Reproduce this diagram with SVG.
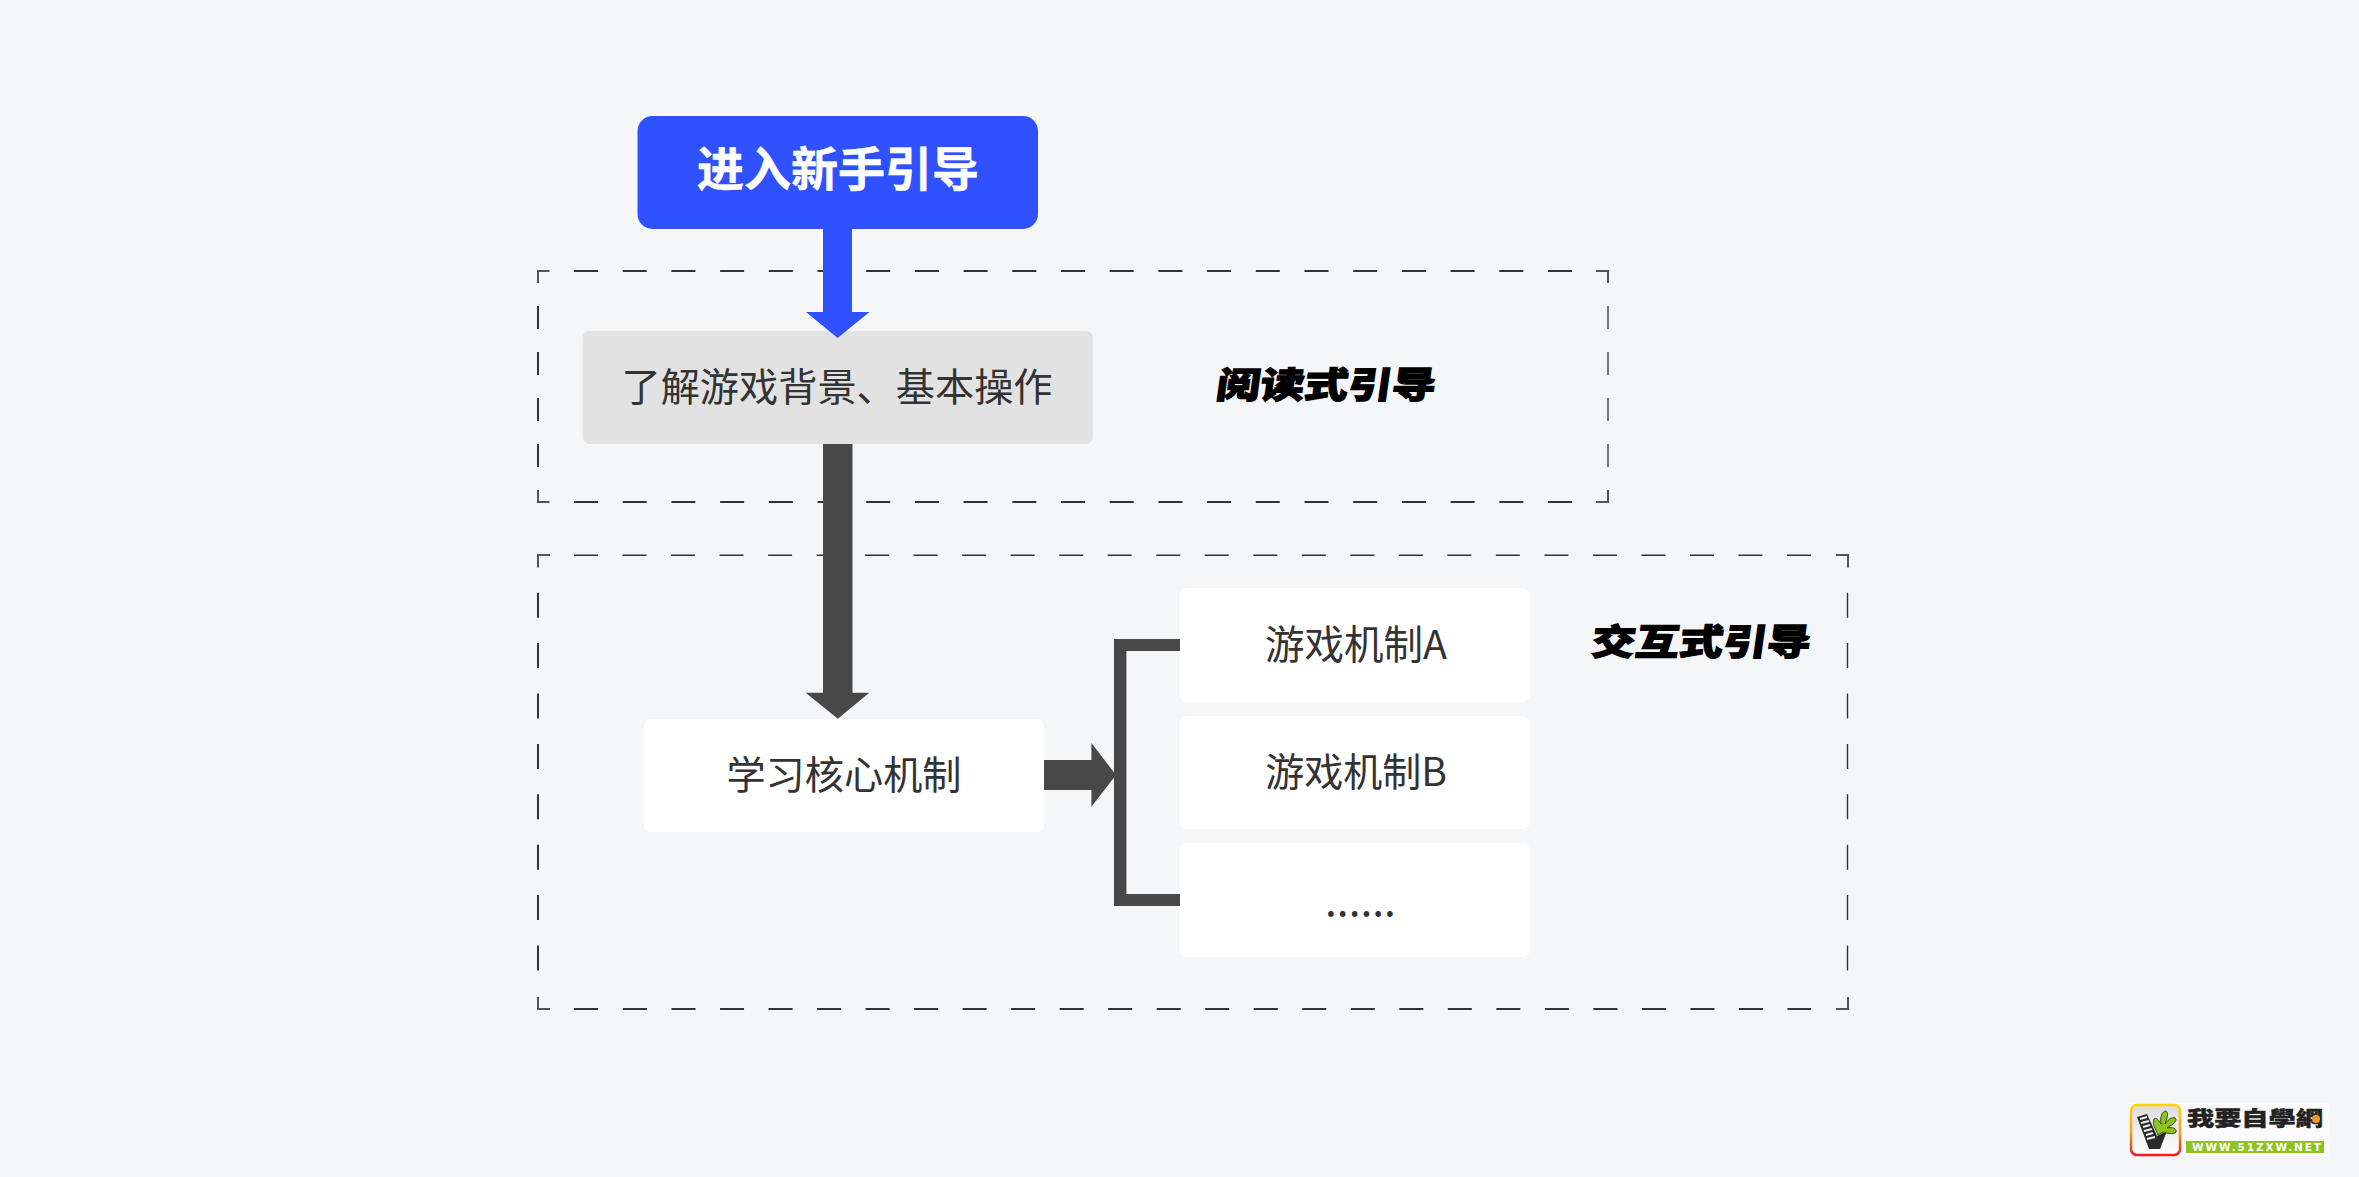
<svg xmlns="http://www.w3.org/2000/svg" width="2359" height="1177" viewBox="0 0 2359 1177">
<defs>
<linearGradient id="rim" x1="0" y1="0" x2="0" y2="1"><stop offset="0" stop-color="#ffd800"/><stop offset="0.55" stop-color="#ff9a1a"/><stop offset="1" stop-color="#ee1c25"/></linearGradient>
<linearGradient id="pane" x1="0" y1="0" x2="0" y2="1"><stop offset="0" stop-color="#dcdcdc"/><stop offset="1" stop-color="#ffffff"/></linearGradient>
</defs>
<style>
.t{font-family:"Noto Sans CJK SC","Noto Sans",sans-serif;fill:#333;font-size:39.5px;text-anchor:middle}
.h{font-family:"Noto Sans CJK SC",sans-serif;font-weight:900;font-size:36px;fill:#000;stroke:#000;stroke-width:1.2px;stroke-linejoin:miter}
.dh{stroke:#333;stroke-width:2;fill:none;stroke-dasharray:24 24.7}
.dv{stroke:#333;stroke-width:2;fill:none;stroke-dasharray:23 23}
.c{stroke:#555;stroke-width:2;fill:none}
.dark{fill:#484848}
.blue{fill:#2f51ff}
</style>
<rect width="2359" height="1177" fill="#f5f6f8"/>
<g id="frame-reading">
<path class="dh" d="M574 271H1572"/><path class="dh" d="M574 502H1572"/>
<path class="dv" d="M538 306V467"/><path class="dv" d="M1608 306V467" style="stroke-width:1.3"/>
<path class="c" d="M549.500 271H538V283M1596 271H1608V283M549.500 502H538V490M1596 502H1608V490"/>
</g>
<g id="frame-interactive">
<path class="dh" d="M574 555.300H1811" style="stroke-width:1.4;stroke-dasharray:24 24.520"/><path class="dh" d="M623 1009H1811" style="stroke-dasharray:24 24.520"/>
<path class="dh" d="M574 1009H598" style="stroke-dasharray:none"/>
<path class="dv" d="M538 592.700V972" style="stroke-dasharray:25 25.400"/><path class="dv" d="M1847.500 592.700V972" style="stroke-dasharray:25 25.400;stroke-width:1.4"/>
<path class="c" d="M550 555H538V567.500M1836 555H1848V567.500M550 1009H538V997M1836 1009H1848V997"/>
</g>
<g id="node-start"><rect class="blue" x="637.500" y="116" width="400.500" height="113" rx="15"/>
<text class="t" x="838" y="186" style="font-size:47px;font-weight:700;fill:#fff;stroke:#fff;stroke-width:0.5px">进入新手引导</text></g>
<g id="node-background"><rect x="582.500" y="331" width="510.500" height="113" rx="7" fill="#e2e2e2"/>
<text class="t" x="837" y="401" style="font-size:39.200px">了解游戏背景、基本操作</text></g>
<g id="node-core"><rect x="644" y="719" width="400" height="113" rx="7" fill="#fff"/>
<text class="t" x="844" y="789" style="font-size:39.200px">学习核心机制</text></g>
<g id="node-a"><rect x="1179" y="588" width="351" height="114" rx="8" fill="#fff"/>
<text class="t" x="1356" y="659">游戏机制A</text></g>
<g id="node-b"><rect x="1179" y="716" width="351" height="113" rx="8" fill="#fff"/>
<text class="t" x="1356" y="786" style="font-size:39px">游戏机制B</text></g>
<g id="node-more"><rect x="1179" y="843" width="351" height="114" rx="8" fill="#fff"/>
<text class="t" x="1360.500" y="916" style="font-size:42.500px">......</text></g>
<g id="connectors">
<path class="blue" d="M823 229H852V312H869.500L837.600 338L806 312H823Z"/>
<path class="dark" d="M823 444H852.500V692.700H869.300L837.800 718.700L805.700 692.700H823Z"/>
<path class="dark" d="M1044 760H1091.400V743L1116 775L1091.400 806.700V790H1044Z"/>
<path class="dark" d="M1180 639H1114V906H1180V894H1126.400V651H1180Z"/>
</g>
<g id="label-reading"><text class="h" transform="matrix(1.22 0 -0.14 1 1215 398)">阅读式引导</text></g>
<g id="label-interactive"><text class="h" transform="matrix(1.22 0 -0.14 1 1590 655)">交互式引导</text></g>
<g id="logo">
<rect x="2129" y="1103" width="200" height="54" fill="#fbfbfb"/>
<rect x="2131" y="1105" width="49" height="50" rx="6" fill="url(#pane)" stroke="url(#rim)" stroke-width="2.500"/>
<path d="M2137 1117L2147 1114L2157 1136L2167 1131L2160 1149H2149Z" fill="#2b2b2b"/>
<path d="M2140 1119L2147 1117M2141 1123L2149 1121M2143 1127L2150 1125M2144 1131L2152 1129M2146 1135L2153 1133M2147 1139L2155 1137" stroke="#eee" stroke-width="2" fill="none"/>
<path d="M2158 1135C2155 1128 2152 1124 2154 1119C2156 1117 2159 1120 2161 1124C2160 1117 2162 1111 2166 1111C2169 1113 2167 1119 2165 1124C2169 1118 2174 1116 2176 1119C2176 1123 2171 1125 2167 1128C2172 1127 2177 1128 2176 1132C2173 1135 2167 1133 2163 1132Z" fill="#8ec21f" stroke="#3c4a12" stroke-width="1"/>
<text transform="matrix(1.36 0 0 1 2187 1126)" style="font-family:'Noto Sans CJK TC',sans-serif;font-weight:900;font-size:20px;fill:#222;stroke:#222;stroke-width:0.4px">我要自學網</text>
<circle cx="2316" cy="1119" r="4" fill="#f59a23"/>
<rect x="2186" y="1141" width="138" height="12" fill="#8ec21f"/>
<text x="2192" y="1151" textLength="129" lengthAdjust="spacing" style="font-family:'DejaVu Sans',sans-serif;font-weight:700;font-size:10.500px;fill:#fff">WWW.51ZXW.NET</text>
</g>
</svg>
